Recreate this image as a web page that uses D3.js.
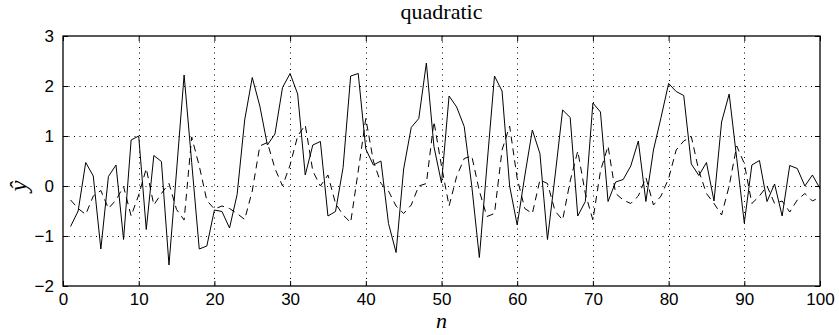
<!DOCTYPE html>
<html>
<head>
<meta charset="utf-8">
<script src="https://cdn.jsdelivr.net/npm/d3@7"></script>
<style>
  body { margin: 0; background: #fff; }
  svg { display: block; }
</style>
</head>
<body>
<div id="showBox"></div>
<script>
// solid line (prediction) and dashed line, n = 1..100
const solidValues = [
  -0.81, -0.5, 0.47, 0.2, -1.26, 0.19, 0.42, -1.07, 0.92, 1.0,
  -0.87, 0.61, 0.49, -1.58, 0.3, 2.22, 0.47, -1.26, -1.2, -0.48,
  -0.51, -0.84, -0.17, 1.32, 2.17, 1.6, 0.82, 1.04, 1.97, 2.25,
  1.84, 0.22, 0.82, 0.89, -0.6, -0.51, 0.37, 2.2, 2.25, 0.74,
  0.42, 0.5, -0.75, -1.33, 0.34, 1.17, 1.35, 2.46, 0.79, 0.06,
  1.8, 1.58, 1.19, 0.0, -1.43, 0.4, 2.2, 1.9, 0.0, -0.78,
  0.2, 1.12, 0.65, -1.07, 0.2, 1.52, 1.37, -0.6, -0.31, 1.66,
  1.48, -0.31, 0.08, 0.13, 0.4, 0.9, -0.31, 0.72, 1.37, 2.05,
  1.89, 1.81, 0.44, 0.21, 0.47, -0.3, 1.28, 1.84, 0.55, -0.74,
  0.42, 0.51, -0.31, 0.04, -0.6, 0.41, 0.35, 0.0, 0.22, -0.05
];
const dashedValues = [
  -0.28, -0.45, -0.57, -0.2, -0.09, -0.45, -0.28, -0.01, -0.6, -0.18,
  0.35, -0.38, -0.15, 0.05, -0.47, -0.68, 0.98, 0.4, -0.29, -0.46,
  -0.4, -0.45, -0.55, -0.67, -0.1, 0.8, 0.87, 0.35, 0.0, 0.42,
  1.0, 1.22, 0.3, 0.0, 0.22, -0.35, -0.58, -0.73, 0.3, 1.35,
  0.5, 0.05, -0.1, -0.4, -0.55, -0.38, 0.0, 0.05, 1.29, 0.4,
  -0.4, 0.19, 0.55, 0.6, -0.1, -0.61, -0.55, 0.72, 1.2, 0.15,
  -0.45, -0.55, 0.12, 0.05, -0.5, -0.68, 0.1, 0.7, -0.15, -0.68,
  0.3, 0.8, -0.15, -0.28, -0.35, -0.2, 0.17, -0.38, -0.2, 0.15,
  0.72, 0.9, 0.99, 0.3, -0.15, -0.35, -0.58, 0.0, 0.8, 0.45,
  -0.35, -0.2, 0.0, -0.35, -0.3, -0.52, -0.28, -0.15, -0.3, -0.22
];
const xTicks = [0, 10, 20, 30, 40, 50, 60, 70, 80, 90, 100];
const yTicks = [-2, -1, 0, 1, 2, 3];

const width = 839, height = 335;
const margin = {top: 36, right: 19, bottom: 49, left: 63};

const svg = d3.select("#showBox").append("svg")
    .attr("width", width)
    .attr("height", height);

const x = d3.scaleLinear().domain([0, 100]).range([margin.left, width - margin.right]);
const y = d3.scaleLinear().domain([-2, 3]).range([height - margin.bottom, margin.top]);

// dotted grid
const grid = svg.append("g")
    .attr("stroke", "#000")
    .attr("stroke-width", 1)
    .attr("stroke-dasharray", "1,4.5");
grid.selectAll(".gx").data(xTicks.slice(1, -1)).join("line")
    .attr("x1", d => Math.round(x(d)) + 0.5).attr("x2", d => Math.round(x(d)) + 0.5)
    .attr("y1", y(3)).attr("y2", y(-2));
grid.selectAll(".gy").data(yTicks.slice(1, -1)).join("line")
    .attr("y1", d => Math.round(y(d)) + 0.5).attr("y2", d => Math.round(y(d)) + 0.5)
    .attr("x1", x(0)).attr("x2", x(100));

// lines
const ns = d3.range(1, 101);
const line = d3.line().x((d, i) => x(ns[i])).y(d => y(d));

svg.append("path")
    .datum(dashedValues)
    .attr("fill", "none")
    .attr("stroke", "#000")
    .attr("stroke-width", 1)
    .attr("stroke-dasharray", "7,5")
    .attr("d", line);

svg.append("path")
    .datum(solidValues)
    .attr("fill", "none")
    .attr("stroke", "#000")
    .attr("stroke-width", 1)
    .attr("d", line);

// axes, ticks inward on all four sides
const fmt = d => d < 0 ? "\u2212" + Math.abs(d) : d;
const tickFont = "'Liberation Sans', Arial, sans-serif";

const xAxis = svg.append("g")
    .attr("transform", `translate(0,${y(-2)})`)
    .call(d3.axisBottom(x).tickValues(xTicks).tickSizeInner(-5).tickSizeOuter(0).tickPadding(7).tickFormat(fmt));
const yAxis = svg.append("g")
    .attr("transform", `translate(${x(0)},0)`)
    .call(d3.axisLeft(y).tickValues(yTicks).tickSizeInner(-5).tickSizeOuter(0).tickPadding(9).tickFormat(fmt));
const xTop = svg.append("g")
    .attr("transform", `translate(0,${y(3)})`)
    .call(d3.axisTop(x).tickValues(xTicks).tickSizeInner(-5).tickSizeOuter(0).tickFormat(""));
const yRight = svg.append("g")
    .attr("transform", `translate(${x(100)},0)`)
    .call(d3.axisRight(y).tickValues(yTicks).tickSizeInner(-5).tickSizeOuter(0).tickFormat(""));

[xAxis, yAxis, xTop, yRight].forEach(g => {
    g.select(".domain").remove();
    g.selectAll("line").attr("stroke", "#000");
    g.selectAll("text")
        .attr("fill", "#000")
        .style("font-family", tickFont)
        .style("font-size", "17px");
});

// frame
svg.append("rect")
    .attr("x", x(0)).attr("y", y(3))
    .attr("width", x(100) - x(0)).attr("height", y(-2) - y(3))
    .attr("fill", "none")
    .attr("stroke", "#000")
    .attr("stroke-width", 1.3);

// title and labels
const serif = "'Liberation Serif', 'Times New Roman', serif";

svg.append("text")
    .attr("x", (x(0) + x(100)) / 2).attr("y", 19)
    .attr("text-anchor", "middle")
    .style("font-family", serif)
    .style("font-size", "22px")
    .text("quadratic");

svg.append("text")
    .attr("x", (x(0) + x(100)) / 2).attr("y", 328)
    .attr("text-anchor", "middle")
    .style("font-family", serif)
    .style("font-style", "italic")
    .style("font-size", "22px")
    .text("n");

svg.append("text")
    .attr("transform", `translate(27,${y(0)}) rotate(-90)`)
    .attr("text-anchor", "middle")
    .style("font-family", serif)
    .style("font-style", "italic")
    .style("font-size", "25px")
    .text("ŷ");
</script>
</body>
</html>
